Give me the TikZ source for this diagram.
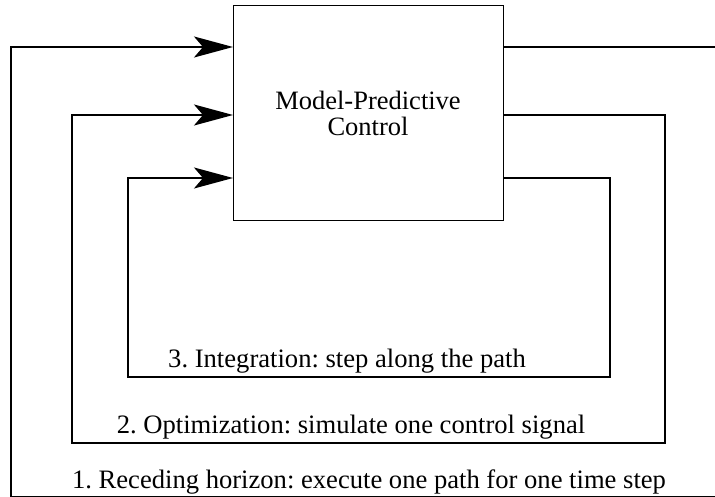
\documentclass[tikz,border=0pt]{standalone}
\usepackage{fontspec}
\setmainfont{Liberation Serif}
\usetikzlibrary{arrows.meta}
\frenchspacing
\tikzset{
  loopline/.style={line width=2pt, line join=miter},
  bigarrow/.style={-{Stealth[length=39pt,width=21pt,inset=9pt]}},
  mpcbox/.style={draw, line width=1pt, minimum width=270pt, minimum height=215pt, inner sep=0pt, align=center, font=\fontsize{26.5}{26}\selectfont},
  looplabel/.style={anchor=base, inner sep=0pt, font=\fontsize{26.6}{30}\selectfont}
}
\begin{document}
\begin{tikzpicture}[x=1pt,y=-1pt]
\useasboundingbox (0,0) rectangle (715,497);
\clip (0,0) rectangle (715,497);
\node[mpcbox] (mpc) at (368,113.5) {\raisebox{-13pt}{\parbox{260pt}{\centering Model-Predictive\\[0pt]Control}}};
% coordinates on the box sides
\coordinate (w1) at (233,47);
\coordinate (w2) at (233,115);
\coordinate (w3) at (233,178);
\coordinate (e1) at (503,47);
\coordinate (e2) at (503,115);
\coordinate (e3) at (503,178);
% outer loop
\coordinate (o1) at (740,47);
\coordinate (o2) at (740,497);
\coordinate (o3) at (11,497);
\coordinate (o4) at (11,47);
% middle loop
\coordinate (m1) at (665,115);
\coordinate (m2) at (665,443);
\coordinate (m3) at (72,443);
\coordinate (m4) at (72,115);
% inner loop
\coordinate (i1) at (610,178);
\coordinate (i2) at (610,377);
\coordinate (i3) at (128,377);
\coordinate (i4) at (128,178);
\draw[loopline,bigarrow] (e1) -- (o1) -- (o2) -- (o3) -- (o4) -- (w1);
\draw[loopline,bigarrow] (e2) -- (m1) -- (m2) -- (m3) -- (m4) -- (w2);
\draw[loopline,bigarrow] (e3) -- (i1) -- (i2) -- (i3) -- (i4) -- (w3);
\node[looplabel] (l3) at (347,367) {3. Integration: step along the path};
\node[looplabel] (l2) at (351,433) {2. Optimization: simulate one control signal};
\node[looplabel] (l1) at (369,488) {1. Receding horizon: execute one path for one time step};
\end{tikzpicture}
\end{document}
